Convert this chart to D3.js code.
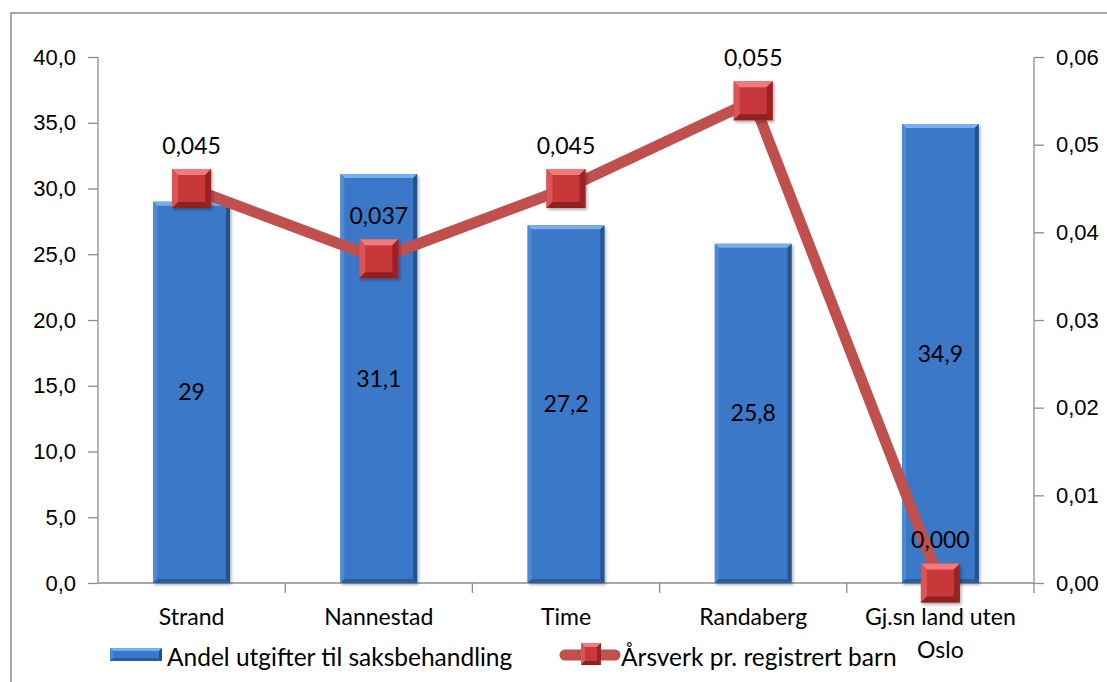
<!DOCTYPE html>
<html>
<head>
<meta charset="utf-8">
<script src="https://cdn.jsdelivr.net/npm/d3@7"></script>
<style>
  body { margin: 0; background: #fff; }
  svg { display: block; font-family: Lato, "Open Sans", sans-serif; }
  .axis path, .axis line { stroke: #8c8c8c; stroke-width: 1.3px; }
  .axis text { fill: #000; font-size: 23px; }
  .axis .tick text { font-size: 22px; }
</style>
</head>
<body>
<div class="chart-box"></div>
<script>
// chart data
var categories = ["Strand", "Nannestad", "Time", "Randaberg", "Gj.sn land uten Oslo"];
var andelValues = [29, 31.1, 27.2, 25.8, 34.9];
var arsverkValues = [0.045, 0.037, 0.045, 0.055, 0.000];
var leftTicks = [0, 5, 10, 15, 20, 25, 30, 35, 40];
var rightTicks = [0, 0.01, 0.02, 0.03, 0.04, 0.05, 0.06];
var seriesNames = ["Andel utgifter til saksbehandling", "Årsverk pr. registrert barn"];

var W = 1107, H = 682,
    margin = {top: 57, right: 73, bottom: 99, left: 98},
    width = W - margin.left - margin.right,
    height = H - margin.top - margin.bottom,
    fs = 23;

var comma = function(f) { return function(v) { return d3.format(f)(v).replace(".", ","); }; };

var svg = d3.select(".chart-box").append("svg")
    .attr("width", W)
    .attr("height", H);

// outer chart border
svg.append("rect")
    .attr("x", 11).attr("y", 13)
    .attr("width", W).attr("height", H)
    .attr("fill", "none")
    .attr("stroke", "#8c8c8c")
    .attr("stroke-width", 1.5);

var defs = svg.append("defs");
defs.append("filter").attr("id", "shadow")
    .attr("x", "-20%").attr("y", "-20%").attr("width", "150%").attr("height", "150%")
  .append("feDropShadow")
    .attr("dx", 1.5).attr("dy", 2).attr("stdDeviation", 1.5)
    .attr("flood-color", "#000").attr("flood-opacity", 0.3);

var g = svg.append("g")
    .attr("transform", "translate(" + margin.left + "," + margin.top + ")");

// scales
var x = d3.scaleBand().domain(categories).range([0, width]).paddingInner(0.59).paddingOuter(0.295);
var xTick = d3.scaleBand().domain(categories).range([0, width]);
var yL = d3.scaleLinear().domain([0, 40]).range([height, 0]);
var yR = d3.scaleLinear().domain([0, 0.06]).range([height, 0]);

// axes
g.append("g").attr("class", "axis")
    .call(d3.axisLeft(yL).tickValues(leftTicks).tickSize(10).tickPadding(12).tickFormat(comma(".1f")))
    .call(function(s) { s.select(".domain").attr("d", "M0,0V" + height); });

g.append("g").attr("class", "axis")
    .attr("transform", "translate(" + width + ",0)")
    .call(d3.axisRight(yR).tickValues(rightTicks).tickSize(10).tickPadding(12).tickFormat(comma(".2f")))
    .call(function(s) { s.select(".domain").attr("d", "M0,0V" + height); });

var xAxisG = g.append("g").attr("class", "axis")
    .attr("transform", "translate(0," + height + ")");
xAxisG.append("line").attr("x1", 0).attr("x2", width).attr("y1", 0).attr("y2", 0);
xAxisG.selectAll(".xt")
    .data(categories)
    .enter().append("line")
    .attr("x1", function(d) { return xTick(d) + xTick.bandwidth(); })
    .attr("x2", function(d) { return xTick(d) + xTick.bandwidth(); })
    .attr("y1", 0).attr("y2", 10);

// category labels (last one wraps)
xAxisG.selectAll(".xl")
    .data(categories)
    .enter().append("text")
    .attr("text-anchor", "middle")
    .attr("x", function(d) { return xTick(d) + xTick.bandwidth() / 2; })
    .attr("y", 42)
    .each(function(d) {
        var t = d3.select(this);
        if (d === "Gj.sn land uten Oslo") {
            t.append("tspan").attr("x", t.attr("x")).text("Gj.sn land uten");
            t.append("tspan").attr("x", t.attr("x")).attr("dy", 33).text("Oslo");
        } else {
            t.text(d);
        }
    });

// bevelled box helper
function bevel(sel, x0, y0, w, h, b, c) {
    var gg = sel.append("g");
    gg.append("rect").attr("x", x0).attr("y", y0).attr("width", w).attr("height", h).attr("fill", c.main);
    var x1 = x0 + w, y1 = y0 + h;
    gg.append("polygon").attr("fill", c.top)
        .attr("points", [[x0, y0], [x1, y0], [x1 - b, y0 + b], [x0 + b, y0 + b]].join(" "));
    gg.append("polygon").attr("fill", c.left)
        .attr("points", [[x0, y0], [x0 + b, y0 + b], [x0 + b, y1 - b], [x0, y1]].join(" "));
    gg.append("polygon").attr("fill", c.right)
        .attr("points", [[x1, y0], [x1, y1], [x1 - b, y1 - b], [x1 - b, y0 + b]].join(" "));
    gg.append("polygon").attr("fill", c.bottom)
        .attr("points", [[x0, y1], [x0 + b, y1 - b], [x1 - b, y1 - b], [x1, y1]].join(" "));
    return gg;
}

var blue = {main: "#3a78c8", top: "#78aeea", left: "#4d8ad6", right: "#22528c", bottom: "#2a5c9c"};
var red = {main: "#c8393b", top: "#f27a7a", left: "#dc5557", right: "#9a2426", bottom: "#8e2022"};

// bars
var barG = g.append("g").attr("filter", "url(#shadow)");
categories.forEach(function(c, i) {
    var v = andelValues[i];
    bevel(barG, x(c), yL(v), x.bandwidth(), height - yL(v), 4, blue);
});

g.selectAll(".barlabel")
    .data(andelValues)
    .enter().append("text")
    .attr("text-anchor", "middle")
    .attr("font-size", fs)
    .attr("x", function(d, i) { return x(categories[i]) + x.bandwidth() / 2; })
    .attr("y", function(d) { return (yL(d) + height) / 2 + 8; })
    .text(function(d) { return String(d).replace(".", ","); });

// line
var cx = function(i) { return x(categories[i]) + x.bandwidth() / 2; };
var line = d3.line()
    .x(function(d, i) { return cx(i); })
    .y(function(d) { return yR(d); });

g.append("path")
    .datum(arsverkValues)
    .attr("d", line)
    .attr("fill", "none")
    .attr("stroke", "#c0504d")
    .attr("stroke-width", 11)
    .attr("stroke-linejoin", "round");

var mk = 39;
var markG = g.append("g").attr("filter", "url(#shadow)");
arsverkValues.forEach(function(v, i) {
    bevel(markG, cx(i) - mk / 2, yR(v) - mk / 2, mk, mk, 6, red);
});

g.selectAll(".linelabel")
    .data(arsverkValues)
    .enter().append("text")
    .attr("text-anchor", "middle")
    .attr("font-size", fs)
    .attr("x", function(d, i) { return cx(i); })
    .attr("y", function(d) { return yR(d) - 35; })
    .text(function(d) { return d3.format(".3f")(d).replace(".", ","); });

// legend
var leg = svg.append("g");
bevel(leg, 110, 648, 52, 13, 3, blue);
leg.append("text").attr("x", 167).attr("y", 666).attr("font-size", 24.5).text(seriesNames[0]);

leg.append("line")
    .attr("x1", 565).attr("x2", 615).attr("y1", 655).attr("y2", 655)
    .attr("stroke", "#c0504d").attr("stroke-width", 11).attr("stroke-linecap", "round");
bevel(leg, 581, 643, 20, 22, 4, red);
leg.append("text").attr("x", 621).attr("y", 666).attr("font-size", 24.5).text(seriesNames[1]);
</script>
</body>
</html>
